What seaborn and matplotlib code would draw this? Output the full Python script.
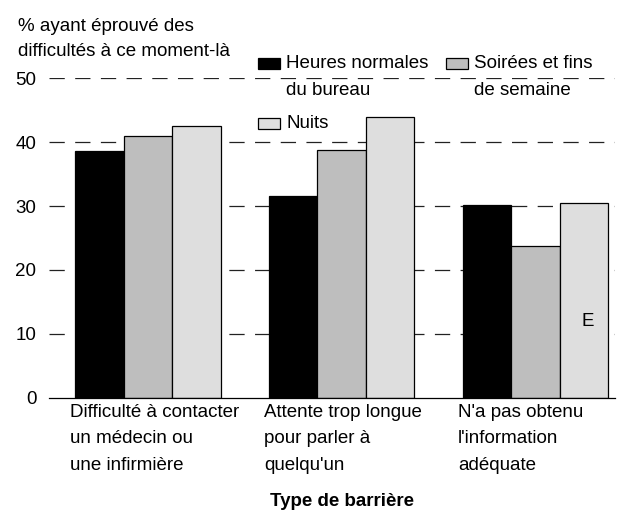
import numpy as np
import pandas as pd
import matplotlib
matplotlib.use("Agg")
import matplotlib.pyplot as plt
import matplotlib.transforms as mtransforms
from matplotlib.patches import Rectangle
import seaborn as sns

# Données
barrieres = [
    "Difficulté à contacter\nun médecin ou\nune infirmière",
    "Attente trop longue\npour parler à\nquelqu'un",
    "N'a pas obtenu\nl'information\nadéquate",
]
periodes = ["Heures normales\ndu bureau", "Soirées et fins\nde semaine", "Nuits"]
heures_normales = [38.6, 31.6, 30.2]
soirees_fins = [40.9, 38.8, 23.7]
nuits = [42.5, 43.9, 30.5]
couleurs = ["#000000", "#bebebe", "#dedede"]
yticks = [0, 10, 20, 30, 40, 50]

sns.set_theme(style="white")
plt.rcParams["font.family"] = ["Liberation Sans", "DejaVu Sans"]
plt.rcParams["lines.scale_dashes"] = False
plt.rcParams["text.color"] = "black"
plt.rcParams["xtick.color"] = "black"
plt.rcParams["ytick.color"] = "black"

df = pd.DataFrame({
    "barriere": barrieres * 3,
    "periode": [periodes[0]] * 3 + [periodes[1]] * 3 + [periodes[2]] * 3,
    "valeur": heures_normales + soirees_fins + nuits,
})

W, H = 634, 511
fig = plt.figure(figsize=(W / 100, H / 100), dpi=100)
ax = fig.add_axes([49 / W, 1 - 398 / H, (615 - 49) / W, (398 - 78) / H])

for y in yticks[1:]:
    ax.axhline(y, color="#222222", lw=0.9, ls=(0, (11, 7.5)), zorder=0)

sns.barplot(data=df, x="barriere", y="valeur", hue="periode",
            hue_order=periodes, order=barrieres, palette=couleurs,
            saturation=1, width=0.75, edgecolor="black", linewidth=0.9,
            legend=False, ax=ax, zorder=2)

ax.set_xlim(-0.51, 2.41)
ax.set_ylim(0, 50)
sns.despine(ax=ax, left=True, top=True, right=True)
ax.spines["bottom"].set_color("black")
ax.spines["bottom"].set_linewidth(0.9)
ax.spines["bottom"].set_zorder(3)

fs = 13.5
ls = 1.74
ax.set_yticks(yticks)
ax.set_yticklabels([str(v) for v in yticks], fontsize=fs)
ax.tick_params(axis="y", length=0, pad=9)
ax.set_xticks(np.arange(len(barrieres)) - 0.40)
ax.set_xticklabels(barrieres, fontsize=fs, ha="left", linespacing=ls)
ax.tick_params(axis="x", length=0, pad=4)
ax.set_xlabel("")
ax.set_ylabel("")

trans = mtransforms.blended_transform_factory(ax.transData, ax.transAxes)
ax.text(1, -(502 - 398) / 320, "Type de barrière", transform=trans,
        ha="center", va="center", fontsize=fs, fontweight="bold")

# marque E (estimation)
ax.text(2.27, 12, "E", ha="center", va="center", fontsize=fs)

fig.text(18 / W, 1 - 18 / H, "% ayant éprouvé des\ndifficultés à ce moment-là",
         ha="left", va="top", fontsize=fs, linespacing=1.6)

# légende
leg_pos = [(258, 58), (446, 58), (258, 118)]
for (x0, y0), lab, c in zip(leg_pos, periodes, couleurs):
    fig.patches.append(Rectangle((x0 / W, 1 - (y0 + 11) / H), 22 / W, 11 / H,
                                 transform=fig.transFigure, facecolor=c,
                                 edgecolor="black", lw=0.9))
    fig.text((x0 + 28) / W, 1 - (y0 - 3) / H, lab, ha="left", va="top",
             fontsize=fs, linespacing=ls)

fig.savefig("out.png", dpi=100)
